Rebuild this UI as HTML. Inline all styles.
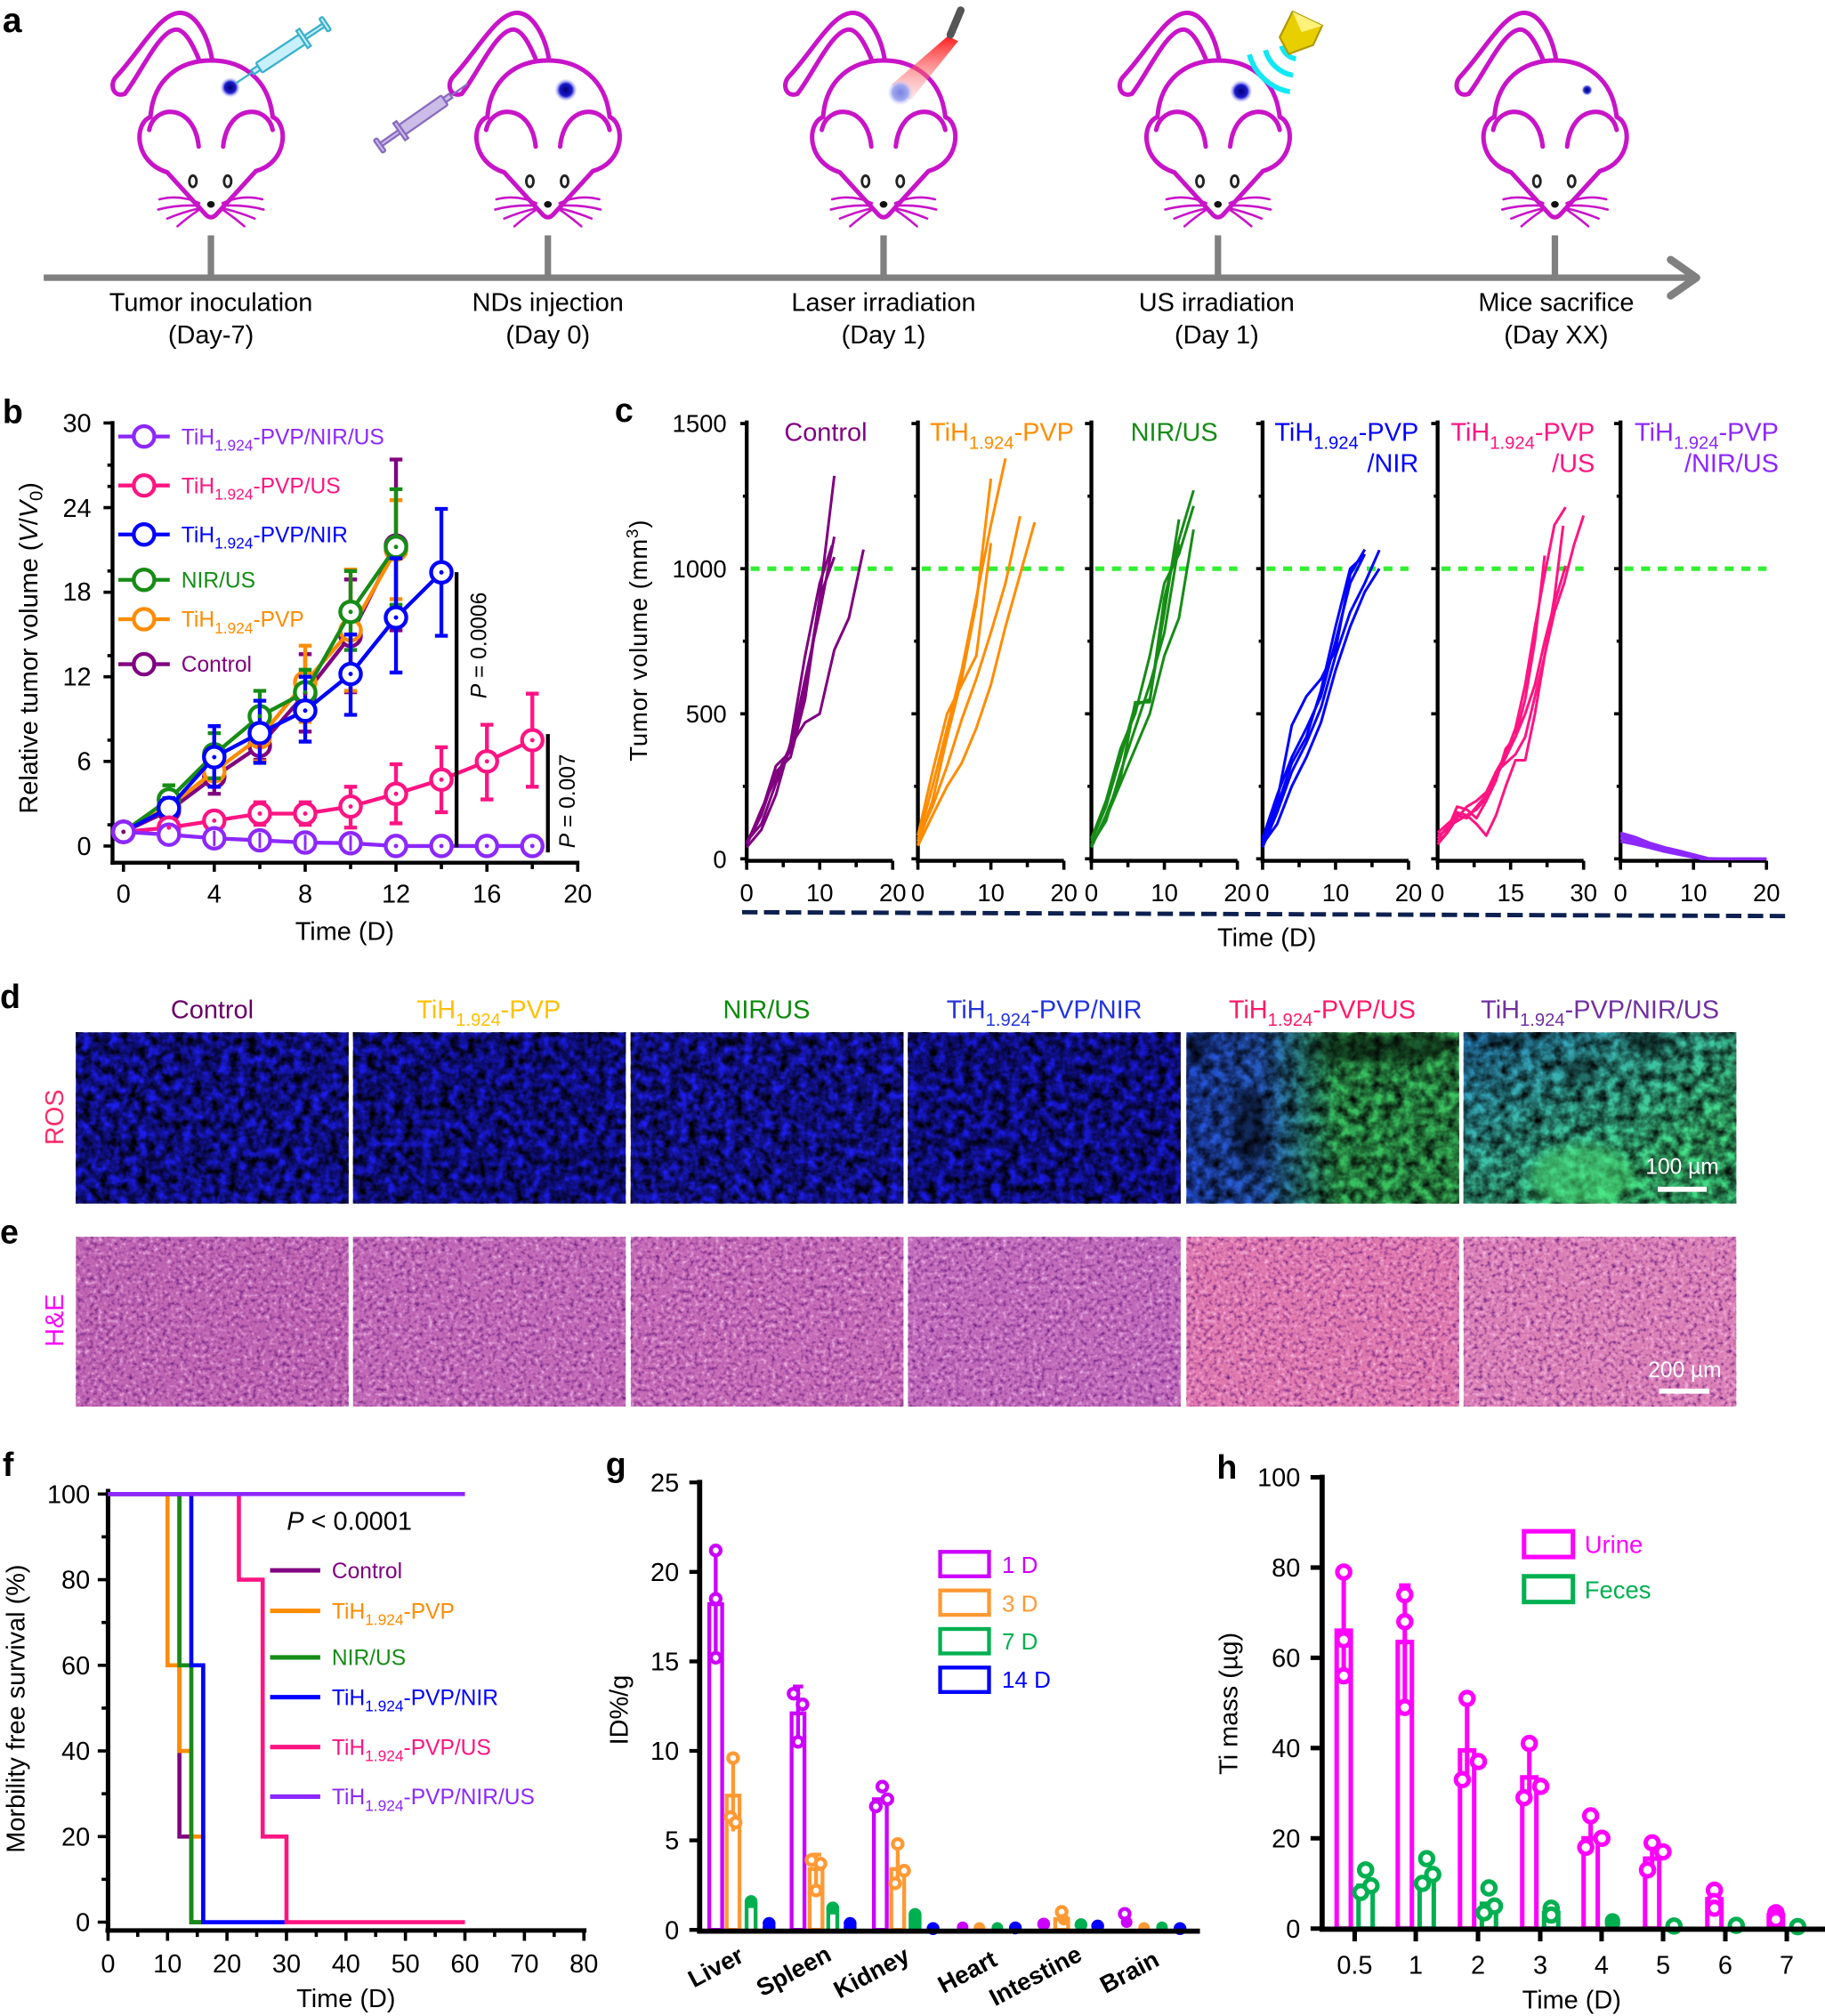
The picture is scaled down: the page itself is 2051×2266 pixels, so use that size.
<!DOCTYPE html>
<html><head><meta charset="utf-8">
<style>
html,body{margin:0;padding:0;background:#fff;}
svg{display:block;}
text{font-family:"Liberation Sans",Arial,sans-serif;}
.cv polyline{vector-effect:non-scaling-stroke;}
</style></head>
<body>
<svg xmlns="http://www.w3.org/2000/svg" xmlns:xlink="http://www.w3.org/1999/xlink" width="2051" height="2266" viewBox="0 0 1419 1568" preserveAspectRatio="none">
<rect width="1419" height="1568" fill="#fff"/>
<defs>
  <g id="mouse" fill="none" stroke="#c814c8" stroke-linecap="round" stroke-linejoin="round">
    <path d="M1,47 C-2,28 -12,10 -24,10 C-40,10 -55,40 -74,60 C-79,66 -76,76 -67,73 C-55,58 -40,23 -27,23 C-20,23 -14,35 -9,47" stroke-width="3.5"/>
    <path d="M-4,167 L-34,134 C-60,126 -60,96 -47,91 C-45,62 -25,47 0,47 C25,47 45,62 48,91 C60,96 60,126 35,133 L4,167 Q0,171 -4,167 Z" fill="#fff" stroke-width="3.5"/>
    <path d="M-48,101 C-44,81 -13,80 -9.5,114 M9.5,114 C13,80 44,81 48,101" stroke-width="3.5"/>
    <path d="M-9,158 Q-24,151 -40,155 M-9,160 Q-26,159 -41,163 M-9,162 Q-22,165 -34,170 M-9,163 Q-18,169 -26,176 M9,158 Q24,151 40,155 M9,160 Q26,159 41,163 M9,162 Q22,165 34,170 M9,163 Q18,169 26,176" stroke-width="1.8"/>
    <ellipse cx="-14" cy="141" rx="2.8" ry="4.4" fill="#fff" stroke="#222" stroke-width="2"/>
    <ellipse cx="13" cy="141" rx="2.8" ry="4.4" fill="#fff" stroke="#222" stroke-width="2"/>
    <ellipse cx="0" cy="159" rx="3" ry="2.6" fill="#111" stroke="none"/>
  </g>
  <g id="syr">
    <rect x="0" y="-6" width="3" height="12" rx="1"/>
    <rect x="3" y="-1.5" width="17" height="3"/>
    <rect x="20" y="-8" width="3" height="16"/>
    <rect x="23" y="-4.5" width="40" height="9" rx="1"/>
    <rect x="63" y="-2" width="6" height="4"/>
    <line x1="69" y1="0" x2="85" y2="0"/>
  </g>
  <radialGradient id="tum"><stop offset="0" stop-color="#000070"/><stop offset="0.55" stop-color="#1a1ad0"/><stop offset="1" stop-color="#c8c8ff" stop-opacity="0"/></radialGradient>
  <radialGradient id="spot3"><stop offset="0" stop-color="#7a80e0"/><stop offset="0.6" stop-color="#a0a8f0"/><stop offset="1" stop-color="#d8d8ff" stop-opacity="0"/></radialGradient>
  <linearGradient id="beam" x1="0" y1="0" x2="0" y2="1"><stop offset="0" stop-color="#ff1010" stop-opacity="0.95"/><stop offset="1" stop-color="#ffa0a0" stop-opacity="0.25"/></linearGradient>
  <linearGradient id="g5" x1="0" y1="0" x2="1" y2="0"><stop offset="0" stop-color="#2450e0"/><stop offset="0.28" stop-color="#2a64d0"/><stop offset="0.42" stop-color="#2f9090"/><stop offset="0.55" stop-color="#38c060"/><stop offset="1" stop-color="#3cc460"/></linearGradient>
  <linearGradient id="g6" x1="0" y1="0" x2="1" y2="1"><stop offset="0" stop-color="#2a88d0"/><stop offset="0.4" stop-color="#3cc0a8"/><stop offset="0.75" stop-color="#44e088"/><stop offset="1" stop-color="#3cd480"/></linearGradient>
  <filter id="fB" x="0" y="0" width="1" height="1" color-interpolation-filters="sRGB">
    <feTurbulence type="fractalNoise" baseFrequency="0.14" numOctaves="3" seed="3" result="a"/>
    <feColorMatrix in="a" type="matrix" values="0 0 0 0 0  0 0 0 0 0  0 0 0 0 0  -1.7 0 0 0 1.35" result="d"/>
    <feComposite in="d" in2="SourceGraphic" operator="over"/>
  </filter>
  <filter id="fG" x="0" y="0" width="1" height="1" color-interpolation-filters="sRGB">
    <feTurbulence type="fractalNoise" baseFrequency="0.12" numOctaves="3" seed="8" result="a"/>
    <feColorMatrix in="a" type="matrix" values="0 0 0 0 0  0 0 0 0 0  0 0 0 0 0  -1.6 0 0 0 1.2" result="d"/>
    <feComposite in="d" in2="SourceGraphic" operator="over"/>
  </filter>
  <filter id="fH" x="0" y="0" width="1" height="1" color-interpolation-filters="sRGB">
    <feTurbulence type="fractalNoise" baseFrequency="0.3" numOctaves="2" seed="5" result="a"/>
    <feColorMatrix in="a" type="matrix" values="0 0 0 0 1  0 0 0 0 0.85  0 0 0 0 1  -2.2 0 0 0 0.95" result="lt"/>
    <feColorMatrix in="a" type="matrix" values="0 0 0 0 0.4  0 0 0 0 0.1  0 0 0 0 0.5  2.5 0 0 0 -1.3" result="dk"/>
    <feMerge><feMergeNode in="SourceGraphic"/><feMergeNode in="lt"/><feMergeNode in="dk"/></feMerge>
  </filter>
  <filter id="blr" x="-50%" y="-50%" width="200%" height="200%"><feGaussianBlur stdDeviation="4"/></filter>
  <clipPath id="cp5"><rect x="922.5" y="803" width="212" height="133"/></clipPath>
  <clipPath id="cp6"><rect x="1138" y="803" width="212" height="133"/></clipPath>
  <g id="cax" fill="none" stroke="#000">
    <line x1="0" y1="327" x2="0" y2="671" stroke-width="3"/>
    <line x1="-1.5" y1="669.5" x2="113.5" y2="669.5" stroke-width="3"/>
    <path d="M0,669.5v7 M28.4,669.5v5 M56.75,669.5v7 M85.1,669.5v5 M113.5,669.5v7" stroke-width="2.5"/>
    <path d="M0,668h-5 M0,611.6h-3 M0,555.2h-5 M0,498.7h-3 M0,442.3h-5 M0,385.9h-3 M0,329.4h-5" stroke-width="2.5"/>
    <line x1="3" y1="442.3" x2="113.5" y2="442.3" stroke="#33ee33" stroke-width="3.5" stroke-dasharray="7 6"/>
  </g>
</defs>

<!-- ============ PANEL A ============ -->
<text x="2" y="25" font-size="27" font-weight="bold">a</text>
<line x1="34" y1="216" x2="1316" y2="216" stroke="#808080" stroke-width="5"/>
<polyline points="1299,202 1319,216 1299,230" fill="none" stroke="#808080" stroke-width="6" stroke-linecap="round" stroke-linejoin="round"/>
<g stroke="#808080" stroke-width="5">
  <line x1="164" y1="183" x2="164" y2="216"/>
  <line x1="426" y1="183" x2="426" y2="216"/>
  <line x1="687" y1="183" x2="687" y2="216"/>
  <line x1="947" y1="183" x2="947" y2="216"/>
  <line x1="1209" y1="183" x2="1209" y2="216"/>
</g>
<use href="#mouse" xlink:href="#mouse" x="164" y="0"/>
<use href="#mouse" xlink:href="#mouse" x="426" y="0"/>
<use href="#mouse" xlink:href="#mouse" x="687" y="0"/>
<use href="#mouse" xlink:href="#mouse" x="947" y="0"/>
<use href="#mouse" xlink:href="#mouse" x="1209" y="0"/>
<!-- mouse 1 -->
<circle cx="179" cy="68" r="8" fill="url(#tum)"/>
<use href="#syr" xlink:href="#syr" transform="translate(254,18) rotate(146.5)" fill="#c8f0fa" stroke="#3cb0cc" stroke-width="1.6"/>
<!-- mouse 2 -->
<circle cx="440" cy="70" r="9" fill="url(#tum)"/>
<use href="#syr" xlink:href="#syr" transform="translate(294,114) rotate(-35)" fill="#cbbde8" stroke="#8a6cc0" stroke-width="1.6"/>
<!-- mouse 3 -->
<polygon points="737,28 745,32 708,78 693,66" fill="url(#beam)"/>
<line x1="747" y1="8" x2="739" y2="27" stroke="#555" stroke-width="6" stroke-linecap="round"/>
<circle cx="700" cy="72" r="10" fill="url(#spot3)"/>
<!-- mouse 4 -->
<circle cx="965" cy="71" r="9" fill="url(#tum)"/>
<g fill="none" stroke="#10e8f4" stroke-width="4">
  <path d="M1003,71.4 A40,40 0 0 1 971.4,42.4"/>
  <path d="M1005.3,58.6 A27,27 0 0 1 983.9,39"/>
  <path d="M1007.6,45.8 A14,14 0 0 1 996.5,35.6"/>
</g>
<polygon points="1005,9 1028,20 1021,35 1002,42 995,29" fill="#e8d000" stroke="#b09800" stroke-width="1.5"/>
<polygon points="1005,9 1028,20 1012,25" fill="#fff27a"/>
<!-- mouse 5 -->
<circle cx="1234" cy="70" r="4.5" fill="url(#tum)"/>
<circle cx="1234" cy="70" r="2.2" fill="none" stroke="#2030c0" stroke-width="1"/>
<g font-size="20" text-anchor="middle">
  <text x="164" y="242">Tumor inoculation</text><text x="164" y="267">(Day-7)</text>
  <text x="426" y="242">NDs injection</text><text x="426" y="267">(Day 0)</text>
  <text x="687" y="242">Laser irradiation</text><text x="687" y="267">(Day 1)</text>
  <text x="946" y="242">US irradiation</text><text x="946" y="267">(Day 1)</text>
  <text x="1210" y="242">Mice sacrifice</text><text x="1210" y="267">(Day XX)</text>
</g>

<!-- ============ PANEL B ============ -->
<text x="2" y="329" font-size="26" font-weight="bold">b</text>
<g stroke="#000" fill="none">
  <line x1="87.5" y1="327.5" x2="87.5" y2="672.5" stroke-width="3"/>
  <line x1="86" y1="671" x2="450.5" y2="671" stroke-width="3"/>
  <path d="M87.5,658h-7 M87.5,641.5h-4 M87.5,592.2h-7 M87.5,575.7h-4 M87.5,526.4h-7 M87.5,509.9h-4 M87.5,460.6h-7 M87.5,444.1h-4 M87.5,394.8h-7 M87.5,378.3h-4 M87.5,329h-7 M87.5,361.8h-4" stroke-width="2.5"/>
  <path d="M96,671v7 M131.3,671v5 M166.6,671v7 M202,671v5 M237.3,671v7 M272.6,671v5 M307.9,671v7 M343.2,671v5 M378.6,671v7 M413.9,671v5 M449.2,671v7" stroke-width="2.5"/>
</g>
<g font-size="20" text-anchor="end">
  <text x="71" y="665">0</text><text x="71" y="599">6</text><text x="71" y="533">12</text><text x="71" y="467">18</text><text x="71" y="402">24</text><text x="71" y="336">30</text>
</g>
<g font-size="20" text-anchor="middle">
  <text x="96" y="702">0</text><text x="166.6" y="702">4</text><text x="237.3" y="702">8</text><text x="307.9" y="702">12</text><text x="378.6" y="702">16</text><text x="449.2" y="702">20</text>
  <text x="268" y="731">Time (D)</text>
</g>
<text transform="translate(29,504) rotate(-90)" text-anchor="middle" font-size="20">Relative tumor volume (<tspan font-style="italic">V</tspan>/<tspan font-style="italic">V</tspan><tspan font-size="14" dy="4">0</tspan><tspan dy="-4">)</tspan></text>

<!-- series: control -->
<g fill="none" stroke="#800080" stroke-width="3">
  <polyline points="96,647 131.3,630.6 166.6,604.2 202,580.1 237.3,539.5 272.6,494.5 307.9,424.3"/>
  <path d="M131.3,636V625 M126.3,636h10 M126.3,625h10 M166.6,617.4V590 M161.6,617.4h10 M161.6,590h10 M202,591V567 M197,591h10 M197,567h10 M237.3,569V508.8 M232.3,569h10 M232.3,508.8h10 M272.6,538.4V450.7 M267.6,538.4h10 M267.6,450.7h10 M307.9,490.2V357.4 M302.9,490.2h10 M302.9,357.4h10"/>
  <g fill="#fff"><circle cx="96" cy="647" r="8"/><circle cx="131.3" cy="630.6" r="8"/><circle cx="166.6" cy="604.2" r="8"/><circle cx="202" cy="580.1" r="8"/><circle cx="237.3" cy="539.5" r="8"/><circle cx="272.6" cy="494.5" r="8"/><circle cx="307.9" cy="424.3" r="8"/></g>
</g>
<!-- orange -->
<g fill="none" stroke="#ff8c00" stroke-width="3">
  <polyline points="96,647 131.3,627.3 166.6,599.9 202,573.5 237.3,530.7 272.6,490.2 307.9,427.6"/>
  <path d="M131.3,633.9V620.7 M126.3,633.9h10 M126.3,620.7h10 M166.6,611.9V587.8 M161.6,611.9h10 M161.6,587.8h10 M202,592.2V556 M197,592.2h10 M197,556h10 M237.3,561.5V502.2 M232.3,561.5h10 M232.3,502.2h10 M272.6,537.3V443 M267.6,537.3h10 M267.6,443h10 M307.9,466V389 M302.9,466h10 M302.9,389h10"/>
  <g fill="#fff"><circle cx="96" cy="647" r="8"/><circle cx="131.3" cy="627.3" r="8"/><circle cx="166.6" cy="599.9" r="8"/><circle cx="202" cy="573.5" r="8"/><circle cx="237.3" cy="530.7" r="8"/><circle cx="272.6" cy="490.2" r="8"/><circle cx="307.9" cy="427.6" r="8"/></g>
</g>
<!-- green -->
<g fill="none" stroke="#168c16" stroke-width="3">
  <polyline points="96,647 131.3,621.8 166.6,586.7 202,557.1 237.3,538.4 272.6,475.9 307.9,425.4"/>
  <path d="M131.3,632.8V610.8 M126.3,632.8h10 M126.3,610.8h10 M166.6,605.3V570.2 M161.6,605.3h10 M161.6,570.2h10 M202,574.6V537.3 M197,574.6h10 M197,537.3h10 M237.3,553.8V520.9 M232.3,553.8h10 M232.3,520.9h10 M272.6,505.5V444.1 M267.6,505.5h10 M267.6,444.1h10 M307.9,470.4V380.5 M302.9,470.4h10 M302.9,380.5h10"/>
  <g fill="#fff"><circle cx="96" cy="647" r="8"/><circle cx="131.3" cy="621.8" r="8"/><circle cx="166.6" cy="586.7" r="8"/><circle cx="202" cy="557.1" r="8"/><circle cx="237.3" cy="538.4" r="8"/><circle cx="272.6" cy="475.9" r="8"/><circle cx="307.9" cy="425.4" r="8"/></g>
</g>
<!-- blue -->
<g fill="none" stroke="#0000ff" stroke-width="3">
  <polyline points="96,647 131.3,628.4 166.6,588.9 202,570.2 237.3,552.7 272.6,524.2 307.9,480.3 343.2,445.2"/>
  <path d="M131.3,636V620.7 M126.3,636h10 M126.3,620.7h10 M166.6,611.9V564.8 M161.6,611.9h10 M161.6,564.8h10 M202,593.3V545 M197,593.3h10 M197,545h10 M237.3,576.8V526.4 M232.3,576.8h10 M232.3,526.4h10 M272.6,556V493.5 M267.6,556h10 M267.6,493.5h10 M307.9,523.1V434.2 M302.9,523.1h10 M302.9,434.2h10 M343.2,494.5V395.8 M338.2,494.5h10 M338.2,395.8h10"/>
  <g fill="#fff"><circle cx="96" cy="647" r="8"/><circle cx="131.3" cy="628.4" r="8"/><circle cx="166.6" cy="588.9" r="8"/><circle cx="202" cy="570.2" r="8"/><circle cx="237.3" cy="552.7" r="8"/><circle cx="272.6" cy="524.2" r="8"/><circle cx="307.9" cy="480.3" r="8"/><circle cx="343.2" cy="445.2" r="8"/></g>
</g>
<!-- pink -->
<g fill="none" stroke="#ff1482" stroke-width="3">
  <polyline points="96,647 131.3,643.7 166.6,638.3 202,632.8 237.3,632.8 272.6,627.3 307.9,617.4 343.2,606.4 378.6,592.2 413.9,575.7"/>
  <path d="M131.3,649.2V638.3 M126.3,649.2h10 M126.3,638.3h10 M166.6,644.8V631.7 M161.6,644.8h10 M161.6,631.7h10 M202,641.5V624 M197,641.5h10 M197,624h10 M237.3,641.5V624 M232.3,641.5h10 M232.3,624h10 M272.6,643.7V611.9 M267.6,643.7h10 M267.6,611.9h10 M307.9,640.4V594.4 M302.9,640.4h10 M302.9,594.4h10 M343.2,631.7V581.2 M338.2,631.7h10 M338.2,581.2h10 M378.6,621.8V563.7 M373.6,621.8h10 M373.6,563.7h10 M413.9,611.9V539.5 M408.9,611.9h10 M408.9,539.5h10"/>
  <g fill="#fff"><circle cx="96" cy="647" r="8"/><circle cx="131.3" cy="643.7" r="8"/><circle cx="166.6" cy="638.3" r="8"/><circle cx="202" cy="632.8" r="8"/><circle cx="237.3" cy="632.8" r="8"/><circle cx="272.6" cy="627.3" r="8"/><circle cx="307.9" cy="617.4" r="8"/><circle cx="343.2" cy="606.4" r="8"/><circle cx="378.6" cy="592.2" r="8"/><circle cx="413.9" cy="575.7" r="8"/></g>
</g>
<!-- violet -->
<g fill="none" stroke="#8c28ff" stroke-width="3">
  <polyline points="96,647 131.3,649.2 166.6,652 202,653.6 237.3,655.3 272.6,655.8 307.9,658 343.2,658 378.6,658 413.9,658"/>
  <g fill="#fff"><circle cx="96" cy="647" r="8"/><circle cx="131.3" cy="649.2" r="8"/><circle cx="166.6" cy="652" r="8"/><circle cx="202" cy="653.6" r="8"/><circle cx="237.3" cy="655.3" r="8"/><circle cx="272.6" cy="655.8" r="8"/><circle cx="307.9" cy="658" r="8"/><circle cx="343.2" cy="658" r="8"/><circle cx="378.6" cy="658" r="8"/><circle cx="413.9" cy="658" r="8"/></g>
  <path d="M166.6,646v12 M202,647.6v12 M237.3,649.3v12 M272.6,649.8v12" stroke-width="2"/>
</g>
<!-- center dots -->
<g fill="#800080"><circle cx="96" cy="647" r="1.7"/><circle cx="237.3" cy="539.5" r="1.7"/><circle cx="202" cy="580.1" r="1.7"/></g>
<g fill="#168c16"><circle cx="237.3" cy="538.4" r="1.7"/><circle cx="272.6" cy="475.9" r="1.7"/><circle cx="307.9" cy="425.4" r="1.7"/><circle cx="202" cy="557.1" r="1.7"/></g>
<g fill="#0000ff"><circle cx="343.2" cy="445.2" r="1.7"/><circle cx="307.9" cy="480.3" r="1.7"/><circle cx="272.6" cy="524.2" r="1.7"/><circle cx="237.3" cy="552.7" r="1.7"/><circle cx="166.6" cy="588.9" r="1.7"/></g>
<g fill="#ff1482"><circle cx="131.3" cy="643.7" r="1.7"/><circle cx="166.6" cy="638.3" r="1.7"/><circle cx="202" cy="632.8" r="1.7"/><circle cx="237.3" cy="632.8" r="1.7"/><circle cx="272.6" cy="627.3" r="1.7"/><circle cx="307.9" cy="617.4" r="1.7"/><circle cx="343.2" cy="606.4" r="1.7"/><circle cx="378.6" cy="592.2" r="1.7"/><circle cx="413.9" cy="575.7" r="1.7"/></g>
<g fill="#8c28ff"><circle cx="307.9" cy="658" r="1.7"/><circle cx="343.2" cy="658" r="1.7"/><circle cx="378.6" cy="658" r="1.7"/><circle cx="413.9" cy="658" r="1.7"/></g>
<!-- legend b -->
<g fill="#fff" stroke-width="3">
  <g stroke="#8c28ff"><line x1="92" y1="339.5" x2="132" y2="339.5"/><circle cx="112" cy="339.5" r="8"/></g>
  <g stroke="#ff1482"><line x1="92" y1="377.6" x2="132" y2="377.6"/><circle cx="112" cy="377.6" r="8"/></g>
  <g stroke="#0000ff"><line x1="92" y1="415.7" x2="132" y2="415.7"/><circle cx="112" cy="415.7" r="8"/></g>
  <g stroke="#168c16"><line x1="92" y1="451" x2="132" y2="451"/><circle cx="112" cy="451" r="8"/></g>
  <g stroke="#ff8c00"><line x1="92" y1="481.6" x2="132" y2="481.6"/><circle cx="112" cy="481.6" r="8"/></g>
  <g stroke="#800080"><line x1="92" y1="516.6" x2="132" y2="516.6"/><circle cx="112" cy="516.6" r="8"/></g>
</g>
<g font-size="17">
  <text x="141" y="345.5" fill="#8c28ff">TiH<tspan font-size="12" dy="5">1.924</tspan><tspan dy="-5">-PVP/NIR/US</tspan></text>
  <text x="141" y="383.6" fill="#ff1482">TiH<tspan font-size="12" dy="5">1.924</tspan><tspan dy="-5">-PVP/US</tspan></text>
  <text x="141" y="421.7" fill="#0000ff">TiH<tspan font-size="12" dy="5">1.924</tspan><tspan dy="-5">-PVP/NIR</tspan></text>
  <text x="141" y="457" fill="#168c16">NIR/US</text>
  <text x="141" y="487.6" fill="#ff8c00">TiH<tspan font-size="12" dy="5">1.924</tspan><tspan dy="-5">-PVP</tspan></text>
  <text x="141" y="522.6" fill="#800080">Control</text>
</g>
<!-- p values -->
<line x1="355" y1="445" x2="355" y2="659" stroke="#000" stroke-width="3"/>
<line x1="426" y1="571" x2="426" y2="663" stroke="#000" stroke-width="3"/>
<text transform="translate(378,502) rotate(-90)" text-anchor="middle" font-size="17"><tspan font-style="italic">P</tspan> = 0.0006</text>
<text transform="translate(447,623) rotate(-90)" text-anchor="middle" font-size="17"><tspan font-style="italic">P</tspan> = 0.007</text>

<!-- ============ PANEL C ============ -->
<text x="478" y="328" font-size="26" font-weight="bold">c</text>
<use href="#cax" xlink:href="#cax" x="580.6" y="0"/>
<use href="#cax" xlink:href="#cax" x="713.7" y="0"/>
<use href="#cax" xlink:href="#cax" x="848.6" y="0"/>
<use href="#cax" xlink:href="#cax" x="981.7" y="0"/>
<use href="#cax" xlink:href="#cax" x="1117.8" y="0"/>
<use href="#cax" xlink:href="#cax" x="1260" y="0"/>
<g font-size="19" text-anchor="end">
  <text x="565" y="336">1500</text><text x="565" y="449">1000</text><text x="565" y="562">500</text><text x="565" y="675">0</text>
</g>
<g font-size="19" text-anchor="middle">
  <text x="580.6" y="701">0</text><text x="637.4" y="701">10</text><text x="694.1" y="701">20</text>
  <text x="713.7" y="701">0</text><text x="770.5" y="701">10</text><text x="827.2" y="701">20</text>
  <text x="848.6" y="701">0</text><text x="905.4" y="701">10</text><text x="962.1" y="701">20</text>
  <text x="981.7" y="701">0</text><text x="1038.5" y="701">10</text><text x="1095.2" y="701">20</text>
  <text x="1117.8" y="701">0</text><text x="1174.6" y="701">15</text><text x="1231.3" y="701">30</text>
  <text x="1260" y="701">0</text><text x="1316.8" y="701">10</text><text x="1373.5" y="701">20</text>
  <text x="985" y="736" font-size="20">Time (D)</text>
</g>
<text transform="translate(503,498) rotate(-90)" text-anchor="middle" font-size="19" letter-spacing="0.6">Tumor volume (mm<tspan font-size="13" dy="-7">3</tspan><tspan dy="7">)</tspan></text>
<line x1="577" y1="709.5" x2="1389" y2="712.5" stroke="#0d2050" stroke-width="3.4" stroke-dasharray="12 5"/>
<!-- titles -->
<g font-size="20">
  <text x="642" y="343" text-anchor="middle" fill="#800080">Control</text>
  <text x="723" y="343" fill="#ff8c00">TiH<tspan font-size="14" dy="6">1.924</tspan><tspan dy="-6">-PVP</tspan></text>
  <text x="913" y="343" text-anchor="middle" fill="#168c16">NIR/US</text>
  <text x="1103" y="343" text-anchor="end" fill="#0000ff">TiH<tspan font-size="14" dy="6">1.924</tspan><tspan dy="-6">-PVP</tspan></text>
  <text x="1103" y="367" text-anchor="end" fill="#0000ff">/NIR</text>
  <text x="1240" y="343" text-anchor="end" fill="#ff1482">TiH<tspan font-size="14" dy="6">1.924</tspan><tspan dy="-6">-PVP</tspan></text>
  <text x="1240" y="367" text-anchor="end" fill="#ff1482">/US</text>
  <text x="1383" y="343" text-anchor="end" fill="#8c28ff">TiH<tspan font-size="14" dy="6">1.924</tspan><tspan dy="-6">-PVP</tspan></text>
  <text x="1383" y="367" text-anchor="end" fill="#8c28ff">/NIR/US</text>
</g>
<!-- curves -->
<g class="cv" transform="translate(580.6,668) scale(5.675,-0.2257)" fill="none" stroke="#800080" stroke-width="3" stroke-linejoin="round">
  <polyline points="0,50 2,150 4,300 6,350 8,550 10,900 12,1320"/>
  <polyline points="0,60 2,120 4,260 6,380 8,620 10,850 12,1110"/>
  <polyline points="0,40 2,100 4,220 6,400 8,700 10,950 11.7,1080"/>
  <polyline points="0,50 2,170 4,280 6,390 8,470 10,500 12,720 14,830 16,1066"/>
  <polyline points="0,55 2,160 4,320 6,370 8,580 10,900 12,1040"/>
</g>
<g class="cv" transform="translate(713.7,668) scale(5.675,-0.2257)" fill="none" stroke="#ff8c00" stroke-width="3" stroke-linejoin="round">
  <polyline points="0,60 2,250 4,450 6,650 8,900 10,1150 12,1380"/>
  <polyline points="0,50 2,200 4,420 6,620 8,880 10,1310"/>
  <polyline points="0,80 2,300 4,500 6,600 8,700 10,1088"/>
  <polyline points="0,70 2,180 4,320 6,480 8,620 10,780 12,950 14,1181"/>
  <polyline points="0,45 2,150 4,250 6,330 8,450 10,600 12,800 14,980 16,1160"/>
</g>
<g class="cv" transform="translate(848.6,668) scale(5.675,-0.2257)" fill="none" stroke="#168c16" stroke-width="3" stroke-linejoin="round">
  <polyline points="0,40 2,150 4,280 6,540 8,540 10,900 12,1100 14,1270"/>
  <polyline points="0,60 2,180 4,350 6,530 8,550 10,850 12,1170"/>
  <polyline points="0,50 2,130 4,300 6,450 8,600 10,780 12,1085"/>
  <polyline points="0,70 2,200 4,380 6,500 8,700 10,950 12,1050 14,1216"/>
  <polyline points="0,45 2,140 4,260 6,380 8,500 10,700 12,830 14,1135"/>
</g>
<g class="cv" transform="translate(981.7,668) scale(5.675,-0.2257)" fill="none" stroke="#0000ff" stroke-width="3" stroke-linejoin="round">
  <polyline points="0,50 2,200 4,460 6,560 8,620 10,720 12,980 14,1066"/>
  <polyline points="0,60 2,180 4,330 6,420 8,580 10,800 12,1000 13.5,1035"/>
  <polyline points="0,40 2,160 4,300 6,400 8,520 10,700 12,850 14,950 16,1064"/>
  <polyline points="0,50 2,120 4,250 6,350 8,470 10,650 12,800 14,920 16,1000"/>
  <polyline points="0,70 2,220 4,350 6,450 8,560 10,750 12,950 14,1050"/>
</g>
<g class="cv" transform="translate(1117.8,668) scale(3.783,-0.2257)" fill="none" stroke="#ff1482" stroke-width="3" stroke-linejoin="round">
  <polyline points="0,80 2,100 4,180 6,170 8,140 10,200 12,270 14,380 16,420 18,550 20,750 22,1045"/>
  <polyline points="0,50 2,90 4,160 6,150 8,170 10,210 12,300 14,360 16,450 18,600 20,800 22,980 24,1150 26.3,1212"/>
  <polyline points="0,70 2,110 4,130 6,150 8,120 10,80 12,150 14,250 16,340 18,340 20,500 22,700 24,900 25.8,1148"/>
  <polyline points="0,60 2,90 4,140 6,180 8,200 10,230 12,300 14,330 16,360 18,420 20,560 22,700 24,850 26,950 28,1080 30,1183"/>
  <polyline points="0,90 2,120 4,150 6,140 8,180 10,220 12,280 14,350 16,420 18,500 20,600 22,750 24,880 26.3,1010"/>
</g>
<g class="cv" transform="translate(1260,668) scale(5.675,-0.2257)" fill="none" stroke="#8c28ff" stroke-width="3" stroke-linejoin="round">
  <polyline points="0,90 2,75 4,55 6,40 8,28 10,15 12,2 14,0 20,0"/>
  <polyline points="0,75 2,60 4,45 6,30 8,20 10,10 11,0 20,0"/>
  <polyline points="0,60 2,50 4,38 6,25 8,15 10,5 12,0 20,0"/>
  <polyline points="0,85 2,65 4,50 6,35 8,22 10,12 12,0 20,0"/>
  <polyline points="0,70 2,58 4,42 6,30 8,18 10,8 12,0 20,0"/>
</g>

<!-- ============ PANEL D / E ============ -->
<text x="0" y="784" font-size="26" font-weight="bold">d</text>
<text x="0" y="967" font-size="26" font-weight="bold">e</text>
<g font-size="20" text-anchor="middle">
  <text x="165" y="792" fill="#660066">Control</text>
  <text x="380" y="792" fill="#ffc000">TiH<tspan font-size="14" dy="6">1.924</tspan><tspan dy="-6">-PVP</tspan></text>
  <text x="596" y="792" fill="#0a8a0a">NIR/US</text>
  <text x="812" y="792" fill="#2233dd">TiH<tspan font-size="14" dy="6">1.924</tspan><tspan dy="-6">-PVP/NIR</tspan></text>
  <text x="1028" y="792" fill="#ff1a66">TiH<tspan font-size="14" dy="6">1.924</tspan><tspan dy="-6">-PVP/US</tspan></text>
  <text x="1244" y="792" fill="#7030a0">TiH<tspan font-size="14" dy="6">1.924</tspan><tspan dy="-6">-PVP/NIR/US</tspan></text>
</g>
<text transform="translate(49,869) rotate(-90)" text-anchor="middle" font-size="20" fill="#ff2a6a">ROS</text>
<text transform="translate(49,1027) rotate(-90)" text-anchor="middle" font-size="20" fill="#ff00ff">H&amp;E</text>
<!-- ROS images -->
<rect x="59" y="803" width="212" height="133" fill="#1c1cec" filter="url(#fB)"/>
<rect x="274.5" y="803" width="212" height="133" fill="#1a1ae4" filter="url(#fB)"/>
<rect x="490.5" y="803" width="212" height="133" fill="#1e1ef0" filter="url(#fB)"/>
<rect x="706" y="803" width="212" height="133" fill="#1a1ae6" filter="url(#fB)"/>
<rect x="922.5" y="803" width="212" height="133" fill="url(#g5)" filter="url(#fG)"/>
<g clip-path="url(#cp5)"><g filter="url(#blr)" fill="#000" opacity="0.55">
  <ellipse cx="972" cy="878" rx="13" ry="32"/><ellipse cx="1070" cy="815" rx="55" ry="12"/><ellipse cx="1115" cy="812" rx="16" ry="9"/><ellipse cx="930" cy="815" rx="10" ry="12"/>
</g></g>
<rect x="1138" y="803" width="212" height="133" fill="url(#g6)" filter="url(#fG)"/>
<g clip-path="url(#cp6)"><g filter="url(#blr)">
  <ellipse cx="1230" cy="915" rx="40" ry="25" fill="#50f080" opacity="0.5"/>
  <ellipse cx="1228" cy="832" rx="10" ry="10" fill="#000" opacity="0.5"/><ellipse cx="1282" cy="810" rx="18" ry="10" fill="#000" opacity="0.5"/><ellipse cx="1175" cy="808" rx="25" ry="6" fill="#000" opacity="0.4"/>
</g></g>
<text x="1308" y="913" text-anchor="middle" font-size="17" fill="#fff">100 µm</text>
<rect x="1289" y="923" width="38" height="4" fill="#fff"/>
<!-- H&E images -->
<rect x="59" y="962" width="212" height="132" fill="#c064b2" filter="url(#fH)"/>
<rect x="274.5" y="962" width="212" height="132" fill="#c268b6" filter="url(#fH)"/>
<rect x="490.5" y="962" width="212" height="132" fill="#c66ab6" filter="url(#fH)"/>
<rect x="706" y="962" width="212" height="132" fill="#c26aba" filter="url(#fH)"/>
<rect x="922.5" y="962" width="212" height="132" fill="#e078ae" filter="url(#fH)"/>
<rect x="1138" y="962" width="212" height="132" fill="#dc80b6" filter="url(#fH)"/>
<text x="1310" y="1071" text-anchor="middle" font-size="17" fill="#fff">200 µm</text>
<rect x="1290" y="1080" width="39" height="4" fill="#fff"/>

<!-- ============ PANEL F ============ -->
<text x="2" y="1148" font-size="26" font-weight="bold">f</text>
<g stroke="#000" fill="none">
  <line x1="84" y1="1158" x2="84" y2="1503" stroke-width="3.5"/>
  <line x1="82" y1="1501.5" x2="456" y2="1501.5" stroke-width="3.5"/>
  <path d="M84,1495h-8 M84,1461.7h-5 M84,1428.4h-8 M84,1395.1h-5 M84,1361.8h-8 M84,1328.5h-5 M84,1295.2h-8 M84,1261.9h-5 M84,1228.6h-8 M84,1195.3h-5 M84,1162h-8" stroke-width="2.5"/>
  <path d="M84,1501.5v8 M107.1,1501.5v5 M130.25,1501.5v8 M153.4,1501.5v5 M176.5,1501.5v8 M199.6,1501.5v5 M222.75,1501.5v8 M245.9,1501.5v5 M269,1501.5v8 M292.1,1501.5v5 M315.25,1501.5v8 M338.4,1501.5v5 M361.5,1501.5v8 M384.6,1501.5v5 M407.75,1501.5v8 M430.9,1501.5v5 M454,1501.5v8" stroke-width="2.5"/>
</g>
<g font-size="20" text-anchor="end">
  <text x="70" y="1502">0</text><text x="70" y="1435.4">20</text><text x="70" y="1368.8">40</text><text x="70" y="1302.2">60</text><text x="70" y="1235.6">80</text><text x="70" y="1169">100</text>
</g>
<g font-size="20" text-anchor="middle">
  <text x="84" y="1534">0</text><text x="130.25" y="1534">10</text><text x="176.5" y="1534">20</text><text x="222.75" y="1534">30</text><text x="269" y="1534">40</text><text x="315.25" y="1534">50</text><text x="361.5" y="1534">60</text><text x="407.75" y="1534">70</text><text x="454" y="1534">80</text>
  <text x="269" y="1561">Time (D)</text>
</g>
<text transform="translate(19,1329) rotate(-90)" text-anchor="middle" font-size="20">Morbility free survival (%)</text>
<g fill="none" stroke-width="3.2">
  <path d="M84,1162 H139.5 V1428.4 H148.75 V1495 H158" stroke="#800080"/>
  <path d="M84,1162 H130.25 V1295.2 H139.5 V1361.8 H148.75 V1428.4 H158 V1495" stroke="#ff8c00"/>
  <path d="M84,1162 H139.5 V1295.2 H148.75 V1495 H158" stroke="#168c16"/>
  <path d="M84,1162 H148.75 V1295.2 H158 V1495 H222.75" stroke="#0000ff"/>
  <path d="M84,1162 H185.75 V1228.6 H204.25 V1428.4 H222.75 V1495 H361.5" stroke="#ff1482"/>
  <path d="M84,1162 H361.5" stroke="#8c28ff"/>
</g>
<text x="223" y="1190" font-size="20"><tspan font-style="italic">P</tspan> &lt; 0.0001</text>
<g stroke-width="3.5">
  <line x1="210" y1="1221.4" x2="249" y2="1221.4" stroke="#800080"/>
  <line x1="210" y1="1252.9" x2="249" y2="1252.9" stroke="#ff8c00"/>
  <line x1="210" y1="1289.1" x2="249" y2="1289.1" stroke="#168c16"/>
  <line x1="210" y1="1320" x2="249" y2="1320" stroke="#0000ff"/>
  <line x1="210" y1="1358.8" x2="249" y2="1358.8" stroke="#ff1482"/>
  <line x1="210" y1="1397.4" x2="249" y2="1397.4" stroke="#8c28ff"/>
</g>
<g font-size="17">
  <text x="258" y="1227.4" fill="#800080">Control</text>
  <text x="258" y="1258.9" fill="#ff8c00">TiH<tspan font-size="12" dy="5">1.924</tspan><tspan dy="-5">-PVP</tspan></text>
  <text x="258" y="1295.1" fill="#168c16">NIR/US</text>
  <text x="258" y="1326" fill="#0000ff">TiH<tspan font-size="12" dy="5">1.924</tspan><tspan dy="-5">-PVP/NIR</tspan></text>
  <text x="258" y="1364.8" fill="#ff1482">TiH<tspan font-size="12" dy="5">1.924</tspan><tspan dy="-5">-PVP/US</tspan></text>
  <text x="258" y="1403.4" fill="#8c28ff">TiH<tspan font-size="12" dy="5">1.924</tspan><tspan dy="-5">-PVP/NIR/US</tspan></text>
</g>

<!-- ============ PANEL G ============ -->
<text x="471" y="1148" font-size="26" font-weight="bold">g</text>
<g font-size="20" text-anchor="end">
  <text x="528" y="1508">0</text><text x="528" y="1438.4">5</text><text x="528" y="1368.8">10</text><text x="528" y="1299.2">15</text><text x="528" y="1229.6">20</text><text x="528" y="1160">25</text>
</g>
<text transform="translate(488,1330) rotate(-90)" text-anchor="middle" font-size="20">ID%/g</text>
<!-- bars 1D -->
<g fill="#fff" stroke="#cc00ff" stroke-width="3">
  <rect x="551.5" y="1247.7" width="10" height="253.3"/>
  <rect x="615.5" y="1332.6" width="10" height="168.4"/>
  <rect x="679.5" y="1399.4" width="10" height="101.6"/>
  <path d="M556.5,1205.9V1289.4 M552.5,1205.9h8 M620.5,1311.7V1357.6 M616.5,1311.7h8" fill="none"/>
  <circle cx="556.5" cy="1205.9" r="3.8"/><circle cx="556.5" cy="1243.5" r="3.8"/><circle cx="556.5" cy="1289.4" r="3.8"/>
  <circle cx="617" cy="1317.3" r="3.8"/><circle cx="624" cy="1325.6" r="3.8"/><circle cx="620.5" cy="1354.8" r="3.8"/>
  <circle cx="686" cy="1389.6" r="3.8"/><circle cx="690" cy="1399.4" r="3.8"/><circle cx="681" cy="1405" r="3.8"/>
  <circle cx="874.5" cy="1488.5" r="3.8"/>
</g>
<g fill="#cc00ff"><circle cx="748.5" cy="1499" r="4.5"/><circle cx="811.5" cy="1496.5" r="5"/><circle cx="876" cy="1495" r="4.5"/></g>
<!-- bars 3D -->
<g fill="#fff" stroke="#ff9933" stroke-width="3">
  <rect x="565" y="1396.6" width="10" height="104.4"/>
  <rect x="629.5" y="1453.7" width="10" height="47.3"/>
  <rect x="693" y="1453.7" width="10" height="47.3"/>
  <rect x="820.5" y="1492.6" width="10" height="8.4"/>
  <path d="M570,1367.4V1424.4 M566,1367.4h8 M634.5,1442.5V1470 M630.5,1442.5h8 M698,1434.2V1464 M694,1434.2h8" fill="none"/>
  <circle cx="570" cy="1367.4" r="3.8"/><circle cx="568" cy="1413.3" r="3.8"/><circle cx="572" cy="1417.5" r="3.8"/>
  <circle cx="631" cy="1446.7" r="3.8"/><circle cx="638" cy="1449.5" r="3.8"/><circle cx="634.5" cy="1470.4" r="3.8"/>
  <circle cx="698" cy="1434.2" r="3.8"/><circle cx="703" cy="1455" r="3.8"/><circle cx="696" cy="1464.8" r="3.8"/>
  <circle cx="825.5" cy="1487" r="3.8"/>
</g>
<g fill="#ff9933"><circle cx="761.5" cy="1499.5" r="4.5"/><circle cx="827" cy="1493" r="4.5"/><circle cx="889.5" cy="1499.5" r="4.5"/></g>
<!-- 7D -->
<g fill="#00b050">
  <rect x="579" y="1480" width="10" height="21"/><circle cx="584" cy="1479" r="5"/>
  <rect x="642.5" y="1484" width="10" height="17"/><circle cx="647.5" cy="1484" r="5"/>
  <circle cx="711.5" cy="1489" r="5"/><rect x="706.5" y="1489" width="10" height="12"/>
  <circle cx="775.5" cy="1499.5" r="4.5"/><circle cx="840.5" cy="1497" r="5"/><circle cx="903.5" cy="1499" r="4.5"/>
</g>
<g fill="#fff"><rect x="582" y="1484" width="4" height="17"/><rect x="645.5" y="1489" width="4" height="12"/></g>
<!-- 14D -->
<g fill="#0000ff">
  <circle cx="598" cy="1496" r="5"/><circle cx="598" cy="1499" r="5"/>
  <circle cx="661" cy="1496" r="5"/><circle cx="661" cy="1499" r="5"/>
  <circle cx="725.5" cy="1500" r="5"/><circle cx="789.5" cy="1499.5" r="5"/><circle cx="853.5" cy="1498" r="5"/><circle cx="917.5" cy="1500" r="5"/>
</g>
<g stroke="#000" fill="none">
  <line x1="544" y1="1151" x2="544" y2="1504" stroke-width="4"/>
  <line x1="542" y1="1502" x2="933" y2="1502" stroke-width="4"/>
  <path d="M544,1501h-8 M544,1431.4h-8 M544,1361.8h-8 M544,1292.2h-8 M544,1222.6h-8 M544,1153h-8" stroke-width="3"/>
</g>
<g font-size="19" font-weight="bold" text-anchor="end">
  <text transform="translate(579.6,1525) rotate(-28)">Liver</text>
  <text transform="translate(647.6,1524) rotate(-28)">Spleen</text>
  <text transform="translate(708.6,1525) rotate(-28)">Kidney</text>
  <text transform="translate(776.6,1528) rotate(-28)">Heart</text>
  <text transform="translate(842.6,1524) rotate(-28)">Intestine</text>
  <text transform="translate(902.6,1528) rotate(-28)">Brain</text>
</g>
<g fill="none" stroke-width="3">
  <rect x="731" y="1207" width="38" height="19" stroke="#cc00ff"/>
  <rect x="731" y="1237" width="38" height="19" stroke="#ff9933"/>
  <rect x="731" y="1267" width="38" height="19" stroke="#00b050"/>
  <rect x="731" y="1297" width="38" height="19" stroke="#0000ff"/>
</g>
<g font-size="18">
  <text x="779" y="1223.5" fill="#cc00ff">1 D</text>
  <text x="779" y="1253.5" fill="#ff9933">3 D</text>
  <text x="779" y="1283" fill="#00b050">7 D</text>
  <text x="779" y="1312.5" fill="#0000ff">14 D</text>
</g>

<!-- ============ PANEL H ============ -->
<text x="946" y="1150" font-size="26" font-weight="bold">h</text>
<g font-size="20" text-anchor="end">
  <text x="1011" y="1507">0</text><text x="1011" y="1436.8">20</text><text x="1011" y="1366.6">40</text><text x="1011" y="1296.4">60</text><text x="1011" y="1226.2">80</text><text x="1011" y="1156">100</text>
</g>
<text transform="translate(962,1325) rotate(-90)" text-anchor="middle" font-size="20">Ti mass (µg)</text>
<g font-size="20" text-anchor="middle">
  <text x="1053.3" y="1535">0.5</text><text x="1100.8" y="1535">1</text><text x="1149.2" y="1535">2</text><text x="1197.6" y="1535">3</text><text x="1245.3" y="1535">4</text><text x="1293.1" y="1535">5</text><text x="1341.5" y="1535">6</text><text x="1389.3" y="1535">7</text>
  <text x="1222" y="1562">Time (D)</text>
</g>
<g fill="#fff" stroke="#ff00ff" stroke-width="3.5">
  <rect x="1039.3" y="1268.3" width="11" height="231.7"/>
  <rect x="1086.8" y="1277.1" width="11" height="222.9"/>
  <rect x="1135.2" y="1361.4" width="11" height="138.6"/>
  <rect x="1183.6" y="1382.4" width="11" height="117.6"/>
  <rect x="1231.3" y="1429.8" width="11" height="70.2"/>
  <rect x="1279.1" y="1445.6" width="11" height="54.4"/>
  <rect x="1327.5" y="1477.2" width="11" height="22.8"/>
  <rect x="1375.3" y="1489.5" width="11" height="10.5"/>
  <path fill="none" d="M1044.8,1222.7V1303.4 M1092.3,1233.2V1328 M1087.8,1233.2h9 M1140.7,1321V1380 M1189.1,1356V1396 M1236.8,1412.3V1440 M1284.6,1433.3V1455"/>
  <circle cx="1044.8" cy="1222.7" r="5"/><circle cx="1044.8" cy="1275.4" r="5"/><circle cx="1044.8" cy="1303.4" r="5"/>
  <circle cx="1092.3" cy="1240.3" r="5"/><circle cx="1092.3" cy="1261.3" r="5"/><circle cx="1092.3" cy="1328" r="5"/>
  <circle cx="1140.7" cy="1321" r="5"/><circle cx="1149.5" cy="1370.1" r="5"/><circle cx="1137" cy="1384.2" r="5"/>
  <circle cx="1189.1" cy="1356" r="5"/><circle cx="1198" cy="1389.4" r="5"/><circle cx="1185" cy="1398.2" r="5"/>
  <circle cx="1236.8" cy="1412.3" r="5"/><circle cx="1245.5" cy="1429.8" r="5"/><circle cx="1233" cy="1436.8" r="5"/>
  <circle cx="1284.6" cy="1433.3" r="5"/><circle cx="1293" cy="1440.3" r="5"/><circle cx="1281" cy="1454.4" r="5"/>
  <circle cx="1333" cy="1470.2" r="5"/><circle cx="1333" cy="1479" r="5"/><circle cx="1333" cy="1484.2" r="5"/>
  <circle cx="1380.8" cy="1487.7" r="5"/><circle cx="1380.8" cy="1491.2" r="5"/><circle cx="1380.8" cy="1493" r="5"/>
</g>
<g fill="#fff" stroke="#00b050" stroke-width="3.5">
  <rect x="1056.3" y="1466.7" width="11" height="33.3"/>
  <rect x="1103.8" y="1461.4" width="11" height="38.6"/>
  <rect x="1152.2" y="1480.7" width="11" height="19.3"/>
  <rect x="1200.6" y="1487.7" width="11" height="12.3"/>
  <circle cx="1061.8" cy="1454.4" r="5"/><circle cx="1066" cy="1466.7" r="5"/><circle cx="1058" cy="1471.9" r="5"/>
  <circle cx="1109.3" cy="1445.6" r="5"/><circle cx="1114" cy="1457.9" r="5"/><circle cx="1106" cy="1464.9" r="5"/>
  <circle cx="1157.7" cy="1468.4" r="5"/><circle cx="1162" cy="1482.5" r="5"/><circle cx="1154" cy="1487.7" r="5"/>
  <circle cx="1206.1" cy="1484.2" r="5"/><circle cx="1206.1" cy="1489.5" r="5"/>
  <circle cx="1301.6" cy="1498" r="5"/><circle cx="1350" cy="1497.5" r="5"/><circle cx="1397.8" cy="1498.5" r="5"/>
</g>
<g fill="#00b050"><circle cx="1253.8" cy="1494" r="6"/><circle cx="1253.8" cy="1496" r="6"/></g>
<g stroke="#000" fill="none">
  <line x1="1028" y1="1147" x2="1028" y2="1502" stroke-width="4"/>
  <line x1="1026" y1="1500.5" x2="1419" y2="1500.5" stroke-width="4"/>
  <path d="M1028,1500h-9 M1028,1429.8h-9 M1028,1359.6h-9 M1028,1289.4h-9 M1028,1219.2h-9 M1028,1149h-9" stroke-width="3.5"/>
  <path d="M1053.3,1500v10 M1100.8,1500v10 M1149.2,1500v10 M1197.6,1500v10 M1245.3,1500v10 M1293.1,1500v10 M1341.5,1500v10 M1389.3,1500v10" stroke-width="3.5"/>
</g>
<rect x="1185" y="1191" width="38" height="20" fill="none" stroke="#ff00ff" stroke-width="3.5"/>
<rect x="1185" y="1226" width="38" height="20" fill="none" stroke="#00b050" stroke-width="3.5"/>
<text x="1232" y="1208" font-size="19" fill="#ff00ff">Urine</text>
<text x="1232" y="1243" font-size="19" fill="#00b050">Feces</text>
</svg>
</body></html>
